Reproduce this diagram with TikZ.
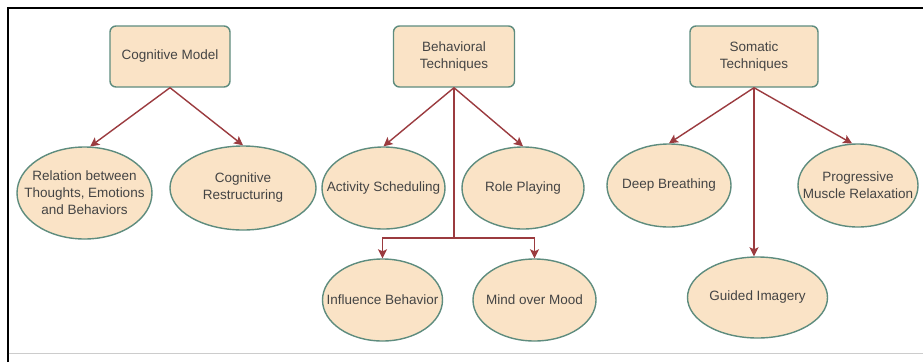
\documentclass[tikz,border=0pt]{standalone}
\usepackage{fontspec}
\setmainfont{Liberation Sans}
\usetikzlibrary{shapes.geometric,arrows.meta}
\definecolor{fillc}{HTML}{FAE3C6}
\definecolor{edgec}{HTML}{5E8C7E}
\definecolor{arrc}{HTML}{9B3B3F}
\definecolor{txtc}{HTML}{444444}
\tikzset{
  topbox/.style={draw=edgec, fill=fillc, line width=1.4pt, rounded corners=6pt,
    align=center, inner sep=0pt, text=txtc,
    font=\fontsize{13.5}{17}\selectfont},
  oval/.style={ellipse, draw=edgec, fill=fillc, line width=1.4pt, inner sep=0pt},
  lbl/.style={align=center, inner sep=0pt, text=txtc, font=\fontsize{13.5}{17}\selectfont},
  arr/.style={draw=arrc, line width=1.4pt, -{Stealth[length=9pt,width=9pt,inset=2pt]}},
  trunkline/.style={color=arrc, line width=1.4pt}
}
\begin{document}
\begin{tikzpicture}[x=1pt,y=-1pt]
\useasboundingbox (0,0) rectangle (923,362);
\fill[white] (0,0) rectangle (923,362);
% frame
\coordinate (f1) at (7.5,362);
\coordinate (f2) at (7.5,7.5);
\coordinate (f3) at (923,7.5);
\coordinate (g1) at (8.5,353);
\coordinate (g2) at (923,353);
\draw[line width=2pt, black] (f1) -- (f2) -- (f3);
\draw[line width=1pt, black!20] (g1) -- (g2);

% top boxes
\node[topbox, minimum width=120pt, minimum height=61pt] (cm) at (170,56.5) {Cognitive Model};
\node[topbox, minimum width=121pt, minimum height=61pt] (bt) at (454,56.5) {Behavioral\\Techniques};
\node[topbox, minimum width=128pt, minimum height=61pt] (st) at (754,56.5) {Somatic\\Techniques};

% cognitive children
\node[oval, minimum width=135pt, minimum height=92pt] (rel) at (84.5,193) {};
\node[lbl] at (rel) {Relation between\\Thoughts, Emotions\\and Behaviors};
\node[oval, minimum width=146pt, minimum height=84pt] (cr) at (243,188) {};
\node[lbl] at (cr) {Cognitive\\Restructuring};

% behavioral children
\node[oval, minimum width=123pt, minimum height=82pt] (as) at (383.5,188) {};
\node[lbl] at (as) {Activity Scheduling};
\node[oval, minimum width=122pt, minimum height=82pt] (rp) at (523,188) {};
\node[lbl] at (rp) {Role Playing};
\node[oval, minimum width=120pt, minimum height=82pt] (ib) at (382.5,300) {};
\node[lbl] at (ib) {Influence Behavior};
\node[oval, minimum width=123pt, minimum height=82pt] (mm) at (534.5,300) {};
\node[lbl] at (mm) {Mind over Mood};

% somatic children
\node[oval, minimum width=124pt, minimum height=83pt] (db) at (669,185.5) {};
\node[lbl] at (db) {Deep Breathing};
\node[oval, minimum width=120pt, minimum height=83pt] (pm) at (858,185.5) {};
\node[lbl] at (pm) {Progressive\\Muscle Relaxation};
\node[oval, minimum width=140pt, minimum height=81pt] (gi) at (757.5,297.5) {};
\node[lbl] at (gi) {Guided Imagery};

% connectors
\draw[arr] (cm.south) -- (rel.83);
\draw[arr] (cm.south) -- (cr.north);

\draw[arr] (bt.south) -- (as.north);
\draw[arr] (bt.south) -- (rp.north);
\coordinate (j) at (454,238);
\draw[trunkline] (bt.south) -- (j);
\draw[arr] (j) -| (ib.north);
\draw[arr] (j) -| (mm.north);

\draw[arr] (st.south) -- (db.north);
\draw[arr] (st.south) -- (pm.98);
\draw[arr] (st.south) -- (st.south |- gi.north);
\end{tikzpicture}
\end{document}
